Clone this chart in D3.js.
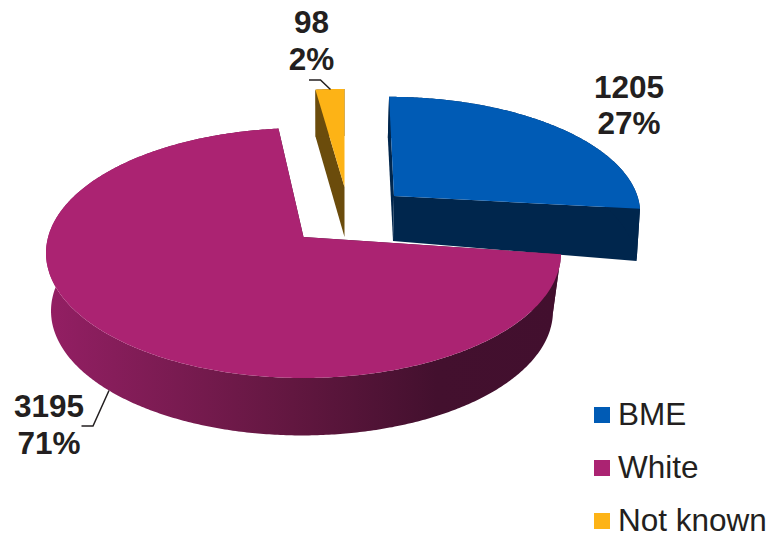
<!DOCTYPE html>
<html>
<head>
<meta charset="utf-8">
<style>html,body{margin:0;padding:0;background:#fff}svg{display:block}text{font-family:"Liberation Sans",Arial,sans-serif;fill:#231f20}</style>
<script src="https://cdn.jsdelivr.net/npm/d3@7"></script>
</head>
<body>
<svg id="c" width="772" height="533"></svg>
<script>
const categories = ["BME", "White", "Not known"];
const counts = [1205, 3195, 98];
const percents = ["27%", "71%", "2%"];

const topDisc = {cx:303.5, cy:253, rx:257.5, ry:125};
const botDisc = {cx:302, cy:311, rx:251, ry:124.5};
const K = 0.128;
const sliceStyle = {
  "BME": {face:"#005bb5", wall:"#00264d", rot:0,
    top:{ax:394, ay:196, sx:.953, sy:.91, hx:.05, hy:0},
    bot:{ax:393, ay:241, sx:.968, sy:.95, hx:.05, hy:.028}},
  "White": {face:"#ab2372", wall:"url(#wg)", rot:1.5,
    top:{ax:303.5, ay:237, sx:1, sy:1, hx:0, hy:0},
    bot:{ax:302, ay:295, sx:1, sy:1, hx:0, hy:0}},
  "Not known": {face:"#fdb316", wall:"#6b4c0c", rot:0,
    top:{ax:344.5, ay:187, sx:.94, sy:.9, hx:0, hy:0},
    bot:{ax:344.5, ay:237, sx:.96, sy:.93, hx:0, hy:0}}
};
const labelPos = {
  "BME": {x:629, y:[98,134]},
  "White": {x:49, y:[417,454]},
  "Not known": {x:311.5, y:[33,70]}
};

const svg = d3.select("#c");
const grad = svg.append("defs").append("linearGradient").attr("id","wg")
  .attr("gradientUnits","userSpaceOnUse").attr("x1",45).attr("x2",560).attr("y1",0).attr("y2",0);
[[0,"#941f64"],[.2,"#7f1c55"],[.48,"#621740"],[.76,"#43102e"],[1,"#420f2e"]]
  .forEach(s=>grad.append("stop").attr("offset",s[0]).attr("stop-color",s[1]));

const arcs = d3.pie().value(d=>d.v).sort(null)(categories.map((c,i)=>({c,v:counts[i],p:percents[i]})));
const line = d3.line();

function proj(a, disc, t){
  const u=Math.sin(a), v=Math.cos(a), d=1+K*v;
  const up=u*Math.sqrt(1-K*K)/d, vp=(v+K)/d;
  const dx=disc.rx*up, dy=disc.ry*(K-vp);
  return [t.ax+t.sx*dx+t.hx*dy*t.sy, t.ay+t.sy*dy+t.hy*dx*t.sx];
}
function sweep(a0,a1,disc,t){
  const n=Math.max(2,Math.ceil((a1-a0)/0.01));
  return d3.range(n+1).map(i=>proj(a0+(a1-a0)*i/n,disc,t));
}

// drawn back to front: the large slice covers the exploded ones' lower edges
const order=[2,0,1];
order.forEach(i=>{
  const d=arcs[i], st=sliceStyle[d.data.c], r=st.rot*Math.PI/180;
  const a0=d.startAngle+r, a1=d.endAngle+r;
  const T=sweep(a0,a1,topDisc,st.top), B=sweep(a0,a1,botDisc,st.bot);
  const g=svg.append("g");
  // side cut at the slice's start/end edges
  g.append("path").attr("fill",i===1?"#420f2e":st.wall)
    .attr("d",line([T[0],[st.top.ax,st.top.ay],[st.bot.ax,st.bot.ay],B[0]])+"Z");
  g.append("path").attr("fill",i===1?"#420f2e":st.wall)
    .attr("d",line([T[T.length-1],[st.top.ax,st.top.ay],[st.bot.ax,st.bot.ay],B[B.length-1]])+"Z");
  // outer wall: one strip per sampled step, all in one path so the silhouette is filled without seams
  const strips=d3.range(T.length-1).map(j=>line([T[j],T[j+1],B[j+1],B[j]])+"Z").join("");
  g.append("path").attr("fill",st.wall).attr("d",strips);
  // top face
  g.append("path").attr("fill",st.face)
    .attr("d",line([[st.top.ax,st.top.ay]].concat(T))+"Z");
});

// leader lines
const leaders={"White":[[81.5,426],[93,426],[109,390.5]],"Not known":[[309,80],[320.5,80],[330.5,89.5]]};
Object.values(leaders).forEach(p=>svg.append("path").attr("fill","none").attr("stroke","#231f20").attr("stroke-width",1.5).attr("d",line(p)));

// value labels
arcs.forEach(d=>{
  const p=labelPos[d.data.c];
  [String(d.data.v),d.data.p].forEach((t,j)=>svg.append("text").attr("x",p.x).attr("y",p.y[j])
    .attr("text-anchor","middle").attr("font-weight","bold").attr("font-size",31.5).text(t));
});

// legend
const legendY=d3.scalePoint().domain(categories).range([415,521]);
categories.forEach(c=>{
  svg.append("rect").attr("x",594).attr("y",legendY(c)-8).attr("width",16).attr("height",16).attr("fill",sliceStyle[c].face);
  svg.append("text").attr("x",618).attr("y",legendY(c)+9.5).attr("font-size",31.5).text(c);
});
</script>
</body>
</html>
